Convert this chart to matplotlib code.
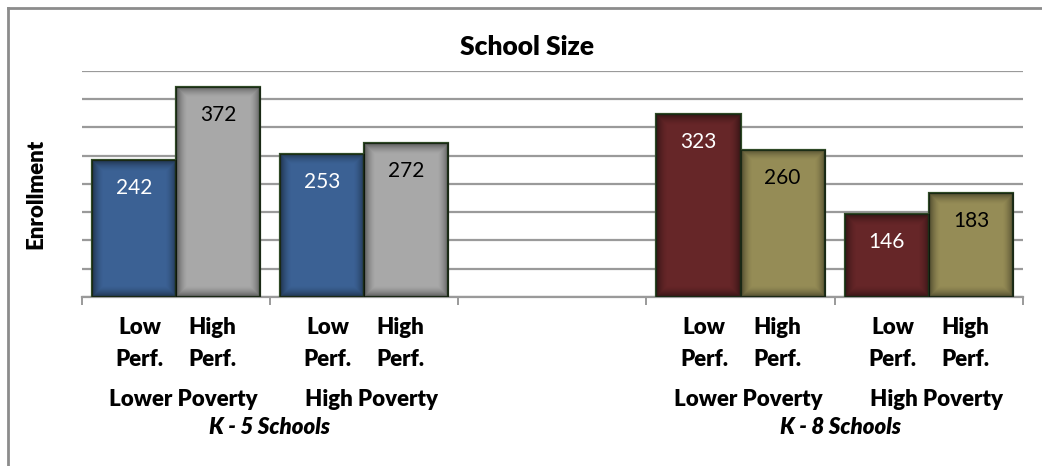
import matplotlib
matplotlib.use("Agg")
import matplotlib.pyplot as plt
import matplotlib.transforms as mtransforms
import numpy as np

plt.rcParams['font.family'] = ['Lato', 'DejaVu Sans']

# data
groups = ['Lower Poverty', 'High Poverty', '', 'Lower Poverty', 'High Poverty']
low_perf = [242, 253, None, 323, 146]
high_perf = [372, 272, None, 260, 183]
perf_labels = ['Low\nPerf.', 'High\nPerf.']
school_types = ['K - 5 Schools', 'K - 8 Schools']
low_colors = ['#3B6194', '#3B6194', None, '#662628', '#662628']
high_colors = ['#A8A8A8', '#A8A8A8', None, '#958C56', '#958C56']

W, H = 1042, 466
fig = plt.figure(figsize=(W / 100, H / 100), dpi=100)
ax = fig.add_axes([81.7 / W, 1 - 297 / H, (1023 - 81.7) / W, (297 - 70.7) / H])

x = np.arange(len(groups))
bw = 0.447
off = 0.2235
px_x = (1023 - 81.7) / len(groups)   # pixels per x unit
px_y = (297 - 70.7) / 400            # pixels per y unit


def shade(bar):
    # darker rim inside each bar, like the bevel in the original
    x0, w = bar.get_x(), bar.get_width()
    h = bar.get_height()
    nw, nh = max(int(w * px_x), 2), max(int(h * px_y), 2)
    xx = np.arange(nw)[None, :]
    yy = np.arange(nh)[:, None]
    d = np.minimum(np.minimum(xx, nw - 1 - xx), np.minimum(yy, nh - 1 - yy))
    a = np.clip(1 - d / 11.0, 0, 1) ** 1.6 * 0.45
    img = np.zeros((nh, nw, 4))
    img[..., 3] = a
    im = ax.imshow(img, extent=(x0, x0 + w, 0, h), aspect='auto', zorder=3.5,
                   interpolation='bilinear')
    im.set_clip_path(bar)


for i in x:
    if low_perf[i] is None:
        continue
    for val, xc, col, tc in [(low_perf[i], i - off, low_colors[i], 'white'),
                             (high_perf[i], i + off, high_colors[i], 'black')]:
        b = ax.bar(xc, val, width=bw, color=col, edgecolor='#2F4A26', linewidth=1.6, zorder=3)[0]
        shade(b)
        ax.annotate(str(val), (xc, val), xytext=(0, -28), textcoords='offset pixels',
                    ha='center', va='center', fontsize=15, color=tc, zorder=5)

ax.set_xlim(-0.5, len(groups) - 0.5)
ax.set_ylim(0, 400)
ax.set_yticks(np.arange(0, 401, 50))
ax.yaxis.grid(True, color='#9A9A9A', linewidth=1.6, zorder=0)
ax.tick_params(axis='y', length=0, labelleft=False)
ax.set_xticks(np.arange(-0.5, len(groups), 1))
ax.tick_params(axis='x', length=6, width=1.4, color='#9A9A9A', labelbottom=False)
for s in ['top', 'right', 'left']:
    ax.spines[s].set_visible(False)
ax.spines['bottom'].set_color('#9A9A9A')
ax.spines['bottom'].set_linewidth(1.6)
ax.set_axisbelow(True)

trans = mtransforms.blended_transform_factory(ax.transData, fig.transFigure)
fs = 16
for i in x:
    if low_perf[i] is None:
        continue
    for j, xc in enumerate([i - off + 0.03, i + off - 0.03]):
        top, bot = perf_labels[j].split('\n')
        ax.text(xc, 1 - 328 / H, top, transform=trans, ha='center', va='center',
                fontsize=fs, fontweight='heavy')
        ax.text(xc, 1 - 359 / H, bot, transform=trans, ha='center', va='center',
                fontsize=fs, fontweight='heavy')
    ax.text(i + 0.04, 1 - 399 / H, groups[i], transform=trans, ha='center', va='center',
            fontsize=fs, fontweight='heavy')

ax.text(0.5, 1 - 428 / H, school_types[0], transform=trans, ha='center', va='center',
        fontsize=fs, fontweight='heavy', style='italic')
ax.text(3.53, 1 - 428 / H, school_types[1], transform=trans, ha='center', va='center',
        fontsize=fs, fontweight='heavy', style='italic')

fig.text(527.5 / W, 1 - 46.7 / H, 'School Size', ha='center', va='center',
         fontsize=19, fontweight='heavy')
fig.text(35.5 / W, 1 - 194 / H, 'Enrollment', ha='center', va='center',
         rotation=90, fontsize=16, fontweight='heavy')

# chart frame (top and left edges visible)
fig.add_artist(plt.Line2D([7.5 / W, 7.5 / W], [0, 1 - 8 / H], transform=fig.transFigure,
                          color='#8C8C8C', linewidth=2))
fig.add_artist(plt.Line2D([7.5 / W, 1], [1 - 8 / H, 1 - 8 / H], transform=fig.transFigure,
                          color='#8C8C8C', linewidth=2))

fig.savefig('out.png', dpi=100)
